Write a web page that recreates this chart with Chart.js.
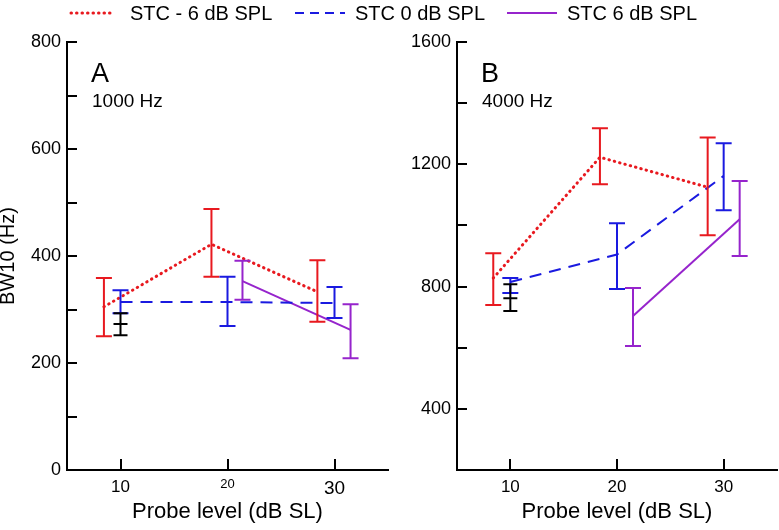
<!DOCTYPE html>
<html>
<head>
<meta charset="utf-8">
<script src="https://cdn.jsdelivr.net/npm/chart.js@4.4.1/dist/chart.umd.min.js"></script>
<style>
  body { margin: 0; background: #fff; }
  #wrap { position: relative; width: 779px; height: 530px; overflow: hidden; font-family: "Liberation Sans", Arial, sans-serif; }
  #panelA { position: absolute; left: 0; top: 0; }
  #panelB { position: absolute; left: 390px; top: 0; }
  #key { position: absolute; left: 0; top: 0; }
</style>
</head>
<body>
<div id="wrap">
  <canvas id="panelA" width="390" height="530"></canvas>
  <canvas id="panelB" width="389" height="530"></canvas>
  <svg id="key" width="779" height="30" font-family="Liberation Sans, Arial, sans-serif" font-size="20">
    <line x1="71" y1="13" x2="113" y2="13" stroke="#e8191f" stroke-width="3" stroke-dasharray="0.5 5" stroke-linecap="round"/>
    <text x="130" y="20">STC - 6 dB SPL</text>
    <line x1="295" y1="13" x2="345" y2="13" stroke="#1a1ae0" stroke-width="2" stroke-dasharray="9 6"/>
    <text x="355" y="20">STC 0 dB SPL</text>
    <line x1="507" y1="13" x2="557" y2="13" stroke="#9624cc" stroke-width="2"/>
    <text x="567" y="20">STC 6 dB SPL</text>
  </svg>
</div>
<script>
// probe levels (dB SL) are offset a little per condition so the bars don't overlap
const redX = [8.45, 18.5, 28.4]
const blueX = [10, 20, 30]
const purpleX = [21.4, 31.5]
const blackX = [10]

// panel A, 1000 Hz
const aRedMean = [305, 422, 333]
const aRedLo = [250, 361, 277]
const aRedHi = [359, 488, 392]
const aBlueMean = [314, 314, 312]
const aBlueLo = [293, 269, 284]
const aBlueHi = [336, 361, 342]
const aPurpleMean = [353, 262]
const aPurpleLo = [318, 209]
const aPurpleHi = [391, 310]
const aBlackMean = [273]
const aBlackLo = [252]
const aBlackHi = [293]

// panel B, 4000 Hz
const bRedX = [8.4, 18.4, 28.5]
const bPurpleX = [21.5, 31.5]
const bRedMean = [828, 1223, 1125]
const bRedLo = [740, 1135, 968]
const bRedHi = [909, 1318, 1288]
const bBlueMean = [815, 905, 1162]
const bBlueLo = [779, 792, 1050]
const bBlueHi = [828, 1007, 1269]
const bPurpleMean = [704, 1020]
const bPurpleLo = [606, 900]
const bPurpleHi = [795, 1145]
const bBlackMean = [762]
const bBlackLo = [720]
const bBlackHi = [808]

// axes
const xTickLabels = [10, 20, 30]
const aYLabels = [0, 200, 400, 600, 800]
const aYMarks = [100, 200, 300, 400, 500, 600, 700, 800]
const bYLabels = [400, 800, 1200, 1600]
const bYMarks = [400, 600, 800, 1000, 1200, 1400, 1600]

const RED = '#e8191f'
const BLUE = '#1a1ae0'
const PURPLE = '#9624cc'

Chart.defaults.font.family = '"Liberation Sans", Arial, sans-serif'
Chart.defaults.color = '#000'

const errorBars = {
  id: 'errorBars',
  afterDatasetsDraw(chart) {
    const { ctx, scales: { x, y } } = chart
    chart.data.datasets.forEach((ds) => {
      if (!ds.lo) return
      const w = ds.capHalf || 8
      ctx.save()
      ctx.strokeStyle = ds.borderColor
      ctx.lineWidth = 2
      ctx.setLineDash([])
      ctx.lineCap = 'butt'
      ds.data.forEach((p, i) => {
        const px = x.getPixelForValue(p.x)
        const top = y.getPixelForValue(ds.hi[i])
        const bot = y.getPixelForValue(ds.lo[i])
        ctx.beginPath()
        ctx.moveTo(px, top); ctx.lineTo(px, bot)
        ctx.moveTo(px - w, top); ctx.lineTo(px + w, top)
        ctx.moveTo(px - w, bot); ctx.lineTo(px + w, bot)
        if (ds.meanTick) {
          const m = y.getPixelForValue(p.y)
          ctx.moveTo(px - w, m); ctx.lineTo(px + w, m)
        }
        ctx.stroke()
      })
      ctx.restore()
    })
  }
}

// inward tick marks + panel letter
const decor = {
  id: 'decor',
  afterDraw(chart, args, opts) {
    const { ctx, chartArea, scales: { x, y } } = chart
    ctx.save()
    ctx.strokeStyle = '#000'
    ctx.lineWidth = 2
    ctx.beginPath()
    opts.yMarks.forEach((v) => {
      const py = Math.round(y.getPixelForValue(v))
      ctx.moveTo(chartArea.left, py); ctx.lineTo(chartArea.left + 10, py)
    })
    xTickLabels.forEach((v) => {
      const px = Math.round(x.getPixelForValue(v))
      ctx.moveTo(px, chartArea.bottom); ctx.lineTo(px, chartArea.bottom - 11)
    })
    ctx.stroke()
    ctx.fillStyle = '#000'
    ctx.textBaseline = 'alphabetic'
    ctx.font = '27px "Liberation Sans", Arial, sans-serif'
    ctx.fillText(opts.letter, chartArea.left + 24, chartArea.top + 40)
    ctx.font = '19px "Liberation Sans", Arial, sans-serif'
    ctx.fillText(opts.freq, chartArea.left + 25, chartArea.top + 65)
    ctx.restore()
  }
}

function series(xs, mean, lo, hi, color, extra) {
  return Object.assign({
    data: xs.map((v, i) => ({ x: v, y: mean[i] })),
    lo: lo,
    hi: hi,
    borderColor: color,
    backgroundColor: color,
    borderWidth: 2,
    pointRadius: 0,
    pointHoverRadius: 0,
    showLine: true,
    fill: false
  }, extra || {})
}

function makePanel(id, datasets, yMin, yMax, yLabels, yMarks, xFonts, yTitle, letter, freq) {
  return new Chart(document.getElementById(id), {
    type: 'scatter',
    data: { datasets: datasets },
    options: {
      responsive: false,
      animation: false,
      layout: { padding: { top: 42, right: 2, left: 0, bottom: 0 } },
      plugins: {
        legend: { display: false },
        tooltip: { enabled: false },
        decor: { yMarks: yMarks, letter: letter, freq: freq }
      },
      scales: {
        x: {
          type: 'linear',
          min: 5,
          max: 35,
          afterBuildTicks: (s) => { s.ticks = xTickLabels.map((v) => ({ value: v })) },
          afterFit: (s) => { s.height = 60 },
          grid: { display: false, drawTicks: false, tickLength: 0 },
          border: { display: true, color: '#000', width: 2 },
          ticks: {
            color: '#000',
            padding: 7,
            maxRotation: 0,
            autoSkip: false,
            callback: (v) => String(v),
            font: (c) => ({ size: c.tick ? xFonts[xTickLabels.indexOf(c.tick.value)] : 17 })
          },
          title: {
            display: true,
            text: 'Probe level (dB SL)',
            color: '#000',
            font: { size: 22 },
            padding: { top: 0, bottom: 5 }
          }
        },
        y: {
          type: 'linear',
          min: yMin,
          max: yMax,
          afterBuildTicks: (s) => { s.ticks = yLabels.map((v) => ({ value: v })) },
          afterFit: (s) => { s.width = 67 },
          grid: { display: false, drawTicks: false, tickLength: 0 },
          border: { display: true, color: '#000', width: 2 },
          ticks: { color: '#000', padding: 6, font: { size: 18 }, callback: (v) => String(v) },
          title: {
            display: !!yTitle,
            text: yTitle || '',
            color: '#000',
            font: { size: 20, lineHeight: 0.85 },
            padding: { top: 0, bottom: 0 }
          }
        }
      }
    },
    plugins: [errorBars, decor]
  })
}

const dotted = { borderWidth: 3, borderDash: [0.5, 5], borderCapStyle: 'round' }
const dashed = { borderDash: [12, 8] }
const blackBar = { showLine: false, meanTick: true, capHalf: 7 }

makePanel('panelA', [
  series(redX, aRedMean, aRedLo, aRedHi, RED, dotted),
  series(blueX, aBlueMean, aBlueLo, aBlueHi, BLUE, dashed),
  series(purpleX, aPurpleMean, aPurpleLo, aPurpleHi, PURPLE),
  series(blackX, aBlackMean, aBlackLo, aBlackHi, '#000', blackBar)
], 0, 800, aYLabels, aYMarks, [17, 13, 19], 'BW10 (Hz)', 'A', '1000 Hz')

makePanel('panelB', [
  series(bRedX, bRedMean, bRedLo, bRedHi, RED, dotted),
  series(blueX, bBlueMean, bBlueLo, bBlueHi, BLUE, dashed),
  series(bPurpleX, bPurpleMean, bPurpleLo, bPurpleHi, PURPLE),
  series(blackX, bBlackMean, bBlackLo, bBlackHi, '#000', blackBar)
], 200, 1600, bYLabels, bYMarks, [17, 17, 17], null, 'B', '4000 Hz')
</script>
</body>
</html>
